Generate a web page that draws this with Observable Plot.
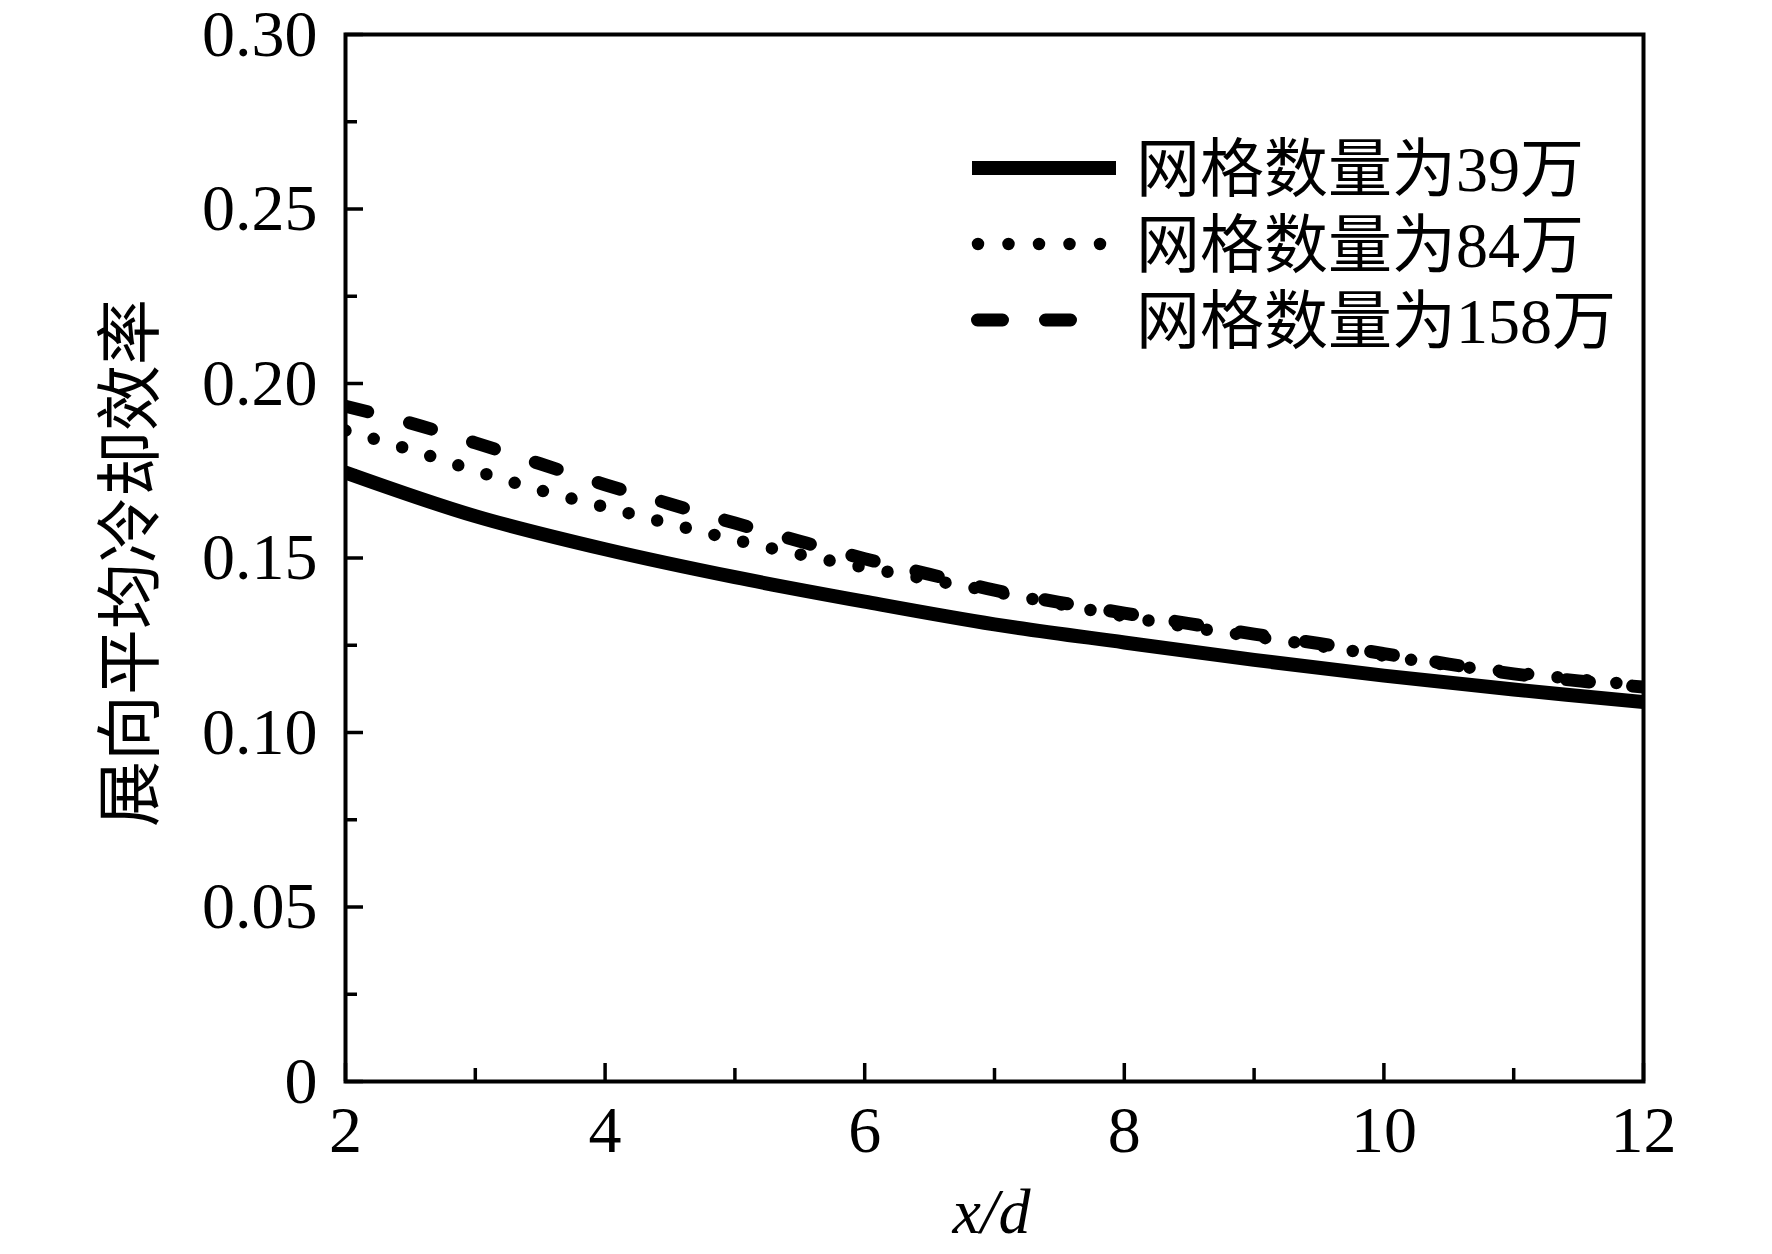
<!DOCTYPE html>
<html>
<head>
<meta charset="utf-8">
<script src="https://cdn.jsdelivr.net/npm/d3@7"></script>
<script src="https://cdn.jsdelivr.net/npm/@observablehq/plot@0.6"></script>
<style>
  html, body { margin: 0; padding: 0; background: #fff; }
  #chart svg { display: block; }
</style>
</head>
<body>
<div id="chart"></div>
<script>
// ---- data ----
const seriesNames = ["网格数量为39万", "网格数量为84万", "网格数量为158万"];

const x39 = [2, 3, 4, 5, 6, 7, 8, 9, 10, 11, 12];
const y39 = [0.1745, 0.1620, 0.1525, 0.1445, 0.1375, 0.1310, 0.1258, 0.1208, 0.1163, 0.1123, 0.1087];

const x84 = [2, 2.5, 3, 3.5, 4, 4.5, 5, 5.5, 6, 6.5, 7, 7.5, 8, 8.5, 9, 9.5, 10, 10.5, 11, 11.5, 12];
const y84 = [0.1865, 0.1810, 0.1750, 0.1694, 0.1646, 0.1598, 0.1552, 0.1510, 0.1473, 0.1438, 0.1403,
             0.1368, 0.1333, 0.1302, 0.1275, 0.1248, 0.1220, 0.1193, 0.1172, 0.1152, 0.1135];

const x158 = [2, 2.5, 3, 3.5, 4, 4.5, 5, 5.5, 6, 6.5, 7, 7.5, 8, 8.5, 9, 9.5, 10, 10.5, 11, 11.5, 12];
const y158 = [0.1935, 0.1887, 0.1830, 0.1770, 0.1710, 0.1655, 0.1600, 0.1548, 0.1498, 0.1453, 0.1408,
              0.1373, 0.1342, 0.1312, 0.1282, 0.1255, 0.1226, 0.1196, 0.1168, 0.1148, 0.1130];

const xMajor = [2, 4, 6, 8, 10, 12];
const xMinor = [3, 5, 7, 9, 11];
const yMajor = [0, 0.05, 0.10, 0.15, 0.20, 0.25, 0.30];
const yMinor = [0.025, 0.075, 0.125, 0.175, 0.225, 0.275];

const xLabel = "x/d";
const yLabel = "展向平均冷却效率";

// ---- build tables ----
const d39 = x39.map((x, i) => ({x, y: y39[i]}));
const d84 = x84.map((x, i) => ({x, y: y84[i]}));
const d158 = x158.map((x, i) => ({x, y: y158[i]}));

const W = 1772, H = 1254;
const mL = 345, mR = 129, mT = 34, mB = 173;
const serif = "'Liberation Serif', 'Times New Roman', serif";
const cjk = "'Liberation Serif', 'Noto Sans CJK SC', sans-serif";

const fmtY = d => d === 0 ? "0" : d3.format(".2f")(d);
const fmtX = d => d3.format("d")(d);

const plot = Plot.plot({
  width: W,
  height: H,
  marginLeft: mL,
  marginRight: mR,
  marginTop: mT,
  marginBottom: mB,
  style: {fontFamily: serif, fontSize: "66px", background: "#fff", color: "#000"},
  x: {domain: [2, 12]},
  y: {domain: [0, 0.30]},
  marks: [
    // tick labels
    Plot.axisY(yMajor, {tickSize: 0, tickPadding: 28, tickFormat: fmtY, label: null, fontSize: 66}),
    Plot.axisX(xMajor, {tickSize: 0, tickPadding: 24, tickFormat: fmtX, label: null, fontSize: 66}),
    // inward ticks
    Plot.axisY(yMajor, {tickSize: -18, text: null, strokeWidth: 3.5, label: null}),
    Plot.axisY(yMinor, {tickSize: -12, text: null, strokeWidth: 3.5, label: null}),
    Plot.axisX(xMajor, {tickSize: -18, text: null, strokeWidth: 3.5, label: null}),
    Plot.axisX(xMinor, {tickSize: -13, text: null, strokeWidth: 3.5, label: null}),
    // data lines
    Plot.line(d39, {x: "x", y: "y", stroke: "#000", strokeWidth: 14, curve: "catmull-rom", clip: true}),
    Plot.line(d84, {x: "x", y: "y", stroke: "#000", strokeWidth: 12.5, strokeLinecap: "round",
                    strokeDasharray: "0,29.5", curve: "catmull-rom", clip: true}),
    Plot.line(d158, {x: "x", y: "y", stroke: "#000", strokeWidth: 13, strokeLinecap: "round",
                     strokeDasharray: "23,43", curve: "catmull-rom", clip: true}),
    Plot.frame({stroke: "#000", strokeWidth: 4}),
    // axis titles
    Plot.text([yLabel], {frameAnchor: "left", textAnchor: "middle", lineAnchor: "middle",
                         rotate: -90, dx: -214, dy: 5,
                         fontFamily: "'Noto Sans CJK SC', sans-serif", fontSize: 66, fill: "#000"}),
    Plot.text([xLabel], {frameAnchor: "bottom", textAnchor: "middle", lineAnchor: "middle",
                         dx: -3, dy: 131, fontStyle: "italic",
                         fontFamily: serif, fontSize: 64, fill: "#000"})
  ]
});

// ---- legend (inside plot, top right) ----
const svg = d3.select(plot);
const lg = svg.append("g").attr("class", "legend").attr("text-anchor", "start");
const rows = [168, 244, 320];
const styles = [
  {w: 14, cap: "butt", dash: null, x1: 972, x2: 1116},
  {w: 12.5, cap: "round", dash: "0,30.5", x1: 978, x2: 1102},
  {w: 13, cap: "round", dash: "25,43", x1: 977.5, x2: 1071}
];
seriesNames.forEach((name, i) => {
  const s = styles[i];
  const ln = lg.append("line")
    .attr("x1", s.x1).attr("x2", s.x2)
    .attr("y1", rows[i]).attr("y2", rows[i])
    .attr("stroke", "#000").attr("stroke-width", s.w)
    .attr("stroke-linecap", s.cap);
  if (s.dash) ln.attr("stroke-dasharray", s.dash);
  lg.append("text")
    .attr("x", 1136).attr("y", rows[i])
    .attr("dy", "0.36em")
    .attr("text-anchor", "start")
    .attr("font-family", cjk)
    .attr("font-size", 64)
    .attr("fill", "#000")
    .text(name);
});

document.getElementById("chart").appendChild(plot);
</script>
</body>
</html>
